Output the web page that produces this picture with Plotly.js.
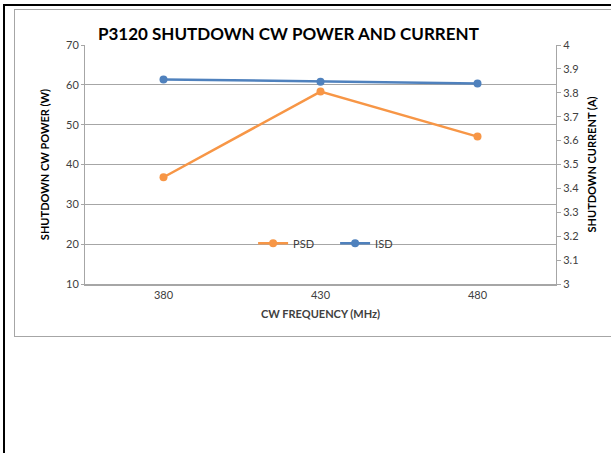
<!DOCTYPE html>
<html>
<head>
<meta charset="utf-8">
<script src="https://cdn.plot.ly/plotly-3.0.1.min.js"></script>
<style>
  html, body { margin: 0; padding: 0; background: #fff; }
  #wrap { position: relative; width: 611px; height: 453px; overflow: hidden; }
  #chart { position: absolute; left: 0; top: 0; width: 611px; height: 453px; }
  #outer { position: absolute; left: 3px; top: 4px; width: 700px; height: 500px; border-left: 2px solid #000; border-top: 2px solid #000; pointer-events: none; }
  #frame { position: absolute; left: 14px; top: 9px; width: 700px; height: 326px; border: 1px solid #a6a6a6; pointer-events: none; }
</style>
</head>
<body>
<div id="wrap">
  <div id="chart"></div>
  <div id="outer"></div>
  <div id="frame"></div>
</div>
<script>
const frequencies = ['380', '430', '480'];
const psdPower = [36.8, 58.3, 47.0];
const isdCurrent = [3.856, 3.846, 3.839];
const leftTicks = [10, 20, 30, 40, 50, 60, 70];
const rightTicks = [3, 3.1, 3.2, 3.3, 3.4, 3.5, 3.6, 3.7, 3.8, 3.9, 4];

const font = 'Lato, "Open Sans", sans-serif';

const traces = [
  {
    x: frequencies, y: psdPower, name: 'PSD', type: 'scatter', mode: 'lines+markers',
    line: { color: '#F79646', width: 2.5 }, marker: { color: '#F79646', size: 8 },
    yaxis: 'y'
  },
  {
    x: frequencies, y: isdCurrent, name: 'ISD', type: 'scatter', mode: 'lines+markers',
    line: { color: '#4F81BD', width: 2.5 }, marker: { color: '#4F81BD', size: 8 },
    yaxis: 'y2'
  }
];

const layout = {
  width: 611, height: 453,
  margin: { l: 85, r: 55, t: 45, b: 169 },
  paper_bgcolor: 'rgba(0,0,0,0)',
  plot_bgcolor: 'rgba(0,0,0,0)',
  font: { family: font, size: 11, color: '#404040' },
  title: {
    text: '<b>P3120 SHUTDOWN CW POWER AND CURRENT</b>',
    font: { family: font, size: 17, color: '#000' },
    x: 0.472, xanchor: 'center', y: 0.925, yanchor: 'middle'
  },
  showlegend: true,
  legend: {
    orientation: 'h', x: 0.531, xanchor: 'center', y: 0.17, yanchor: 'middle',
    bgcolor: 'rgba(0,0,0,0)', font: { family: font, size: 11, color: '#404040' },
    itemwidth: 30, entrywidth: 37, entrywidthmode: 'pixels'
  },
  xaxis: {
    type: 'category', range: [-0.5, 2.5],
    showgrid: false, showline: true, linecolor: '#a6a6a6', linewidth: 1.5,
    ticks: '', tickfont: { family: font, size: 11, color: '#404040' },
    title: { text: '<b>CW FREQUENCY (MHz)</b>', font: { family: font, size: 11, color: '#404040' }, standoff: 10 },
    zeroline: false, fixedrange: true
  },
  yaxis: {
    range: [10, 70], tickvals: leftTicks, ticktext: leftTicks.map(String),
    showgrid: true, gridcolor: '#a6a6a6', gridwidth: 1,
    showline: true, linecolor: '#a6a6a6', linewidth: 1,
    ticks: 'outside', ticklen: 3, tickcolor: '#a6a6a6',
    tickfont: { family: font, size: 11, color: '#404040' },
    title: { text: '<b>SHUTDOWN CW POWER (W)</b>', font: { family: font, size: 11, color: '#000' }, standoff: 14 },
    zeroline: false
  },
  yaxis2: {
    overlaying: 'y', side: 'right',
    range: [3, 4], tickvals: rightTicks, ticktext: rightTicks.map(v => String(v)),
    showgrid: false, showline: true, linecolor: '#a6a6a6', linewidth: 1,
    ticks: 'outside', ticklen: 4, tickcolor: '#a6a6a6',
    tickfont: { family: font, size: 11, color: '#404040' },
    title: { text: '<b>SHUTDOWN CURRENT (A)</b>', font: { family: font, size: 11, color: '#000' }, standoff: 10 },
    zeroline: false
  }
};

Plotly.newPlot('chart', traces, layout, { displayModeBar: false, staticPlot: true });
</script>
</body>
</html>
